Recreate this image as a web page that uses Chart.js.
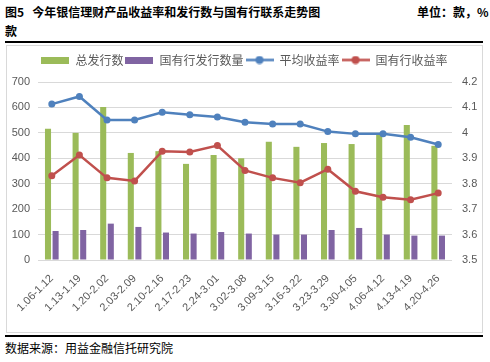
<!DOCTYPE html>
<html>
<head>
<meta charset="utf-8">
<script src="https://cdn.jsdelivr.net/npm/chart.js@4"></script>
<style>
  body { margin: 0; width: 490px; height: 362px; background: #fff; overflow: hidden; position: relative;
         font-family: "Noto Sans CJK SC", "Noto Sans", sans-serif; }
  .txt { position: absolute; font-size: 12px; line-height: 14px; color: #000; white-space: nowrap; }
  .bold { font-weight: bold; }
  .rule { position: absolute; left: 5px; width: 478px; height: 2px; background: #000; }
  #box { position: absolute; left: 6px; top: 45px; width: 477px; height: 288px; border: 1px solid #d9d9d9; box-sizing: border-box; }
  #wrap { position: absolute; left: 0; top: 0; width: 475px; height: 286px; }
</style>
</head>
<body>
<div class="txt bold" style="left:5px;top:5px;">图5&nbsp;&nbsp;&nbsp;今年银信理财产品收益率和发行数与国有行联系走势图</div>
<div class="txt bold" style="left:417px;top:5px;">单位：款，%</div>
<div class="txt bold" style="left:5px;top:24px;">款</div>
<div class="rule" style="top:41px;"></div>
<div id="box"><div id="wrap"><canvas id="chart"></canvas></div></div>
<div class="rule" style="top:335px;"></div>
<div class="txt" style="left:5px;top:341px;">数据来源：用益金融信托研究院</div>
<script>
const weeks = ['1.06-1.12', '1.13-1.19', '1.20-2.02', '2.03-2.09', '2.10-2.16', '2.17-2.23', '2.24-3.01', '3.02-3.08',
  '3.09-3.15', '3.16-3.22', '3.23-3.29', '3.30-4.05', '4.06-4.12', '4.13-4.19', '4.20-4.26'];
const totalIssued = [516, 500, 602, 421, 428, 378, 413, 400, 465, 445, 460, 456, 492, 531, 449];
const stateIssued = [114, 118, 143, 130, 108, 104, 110, 104, 100, 100, 118, 126, 100, 96, 96];
const avgYield = [4.113, 4.143, 4.051, 4.051, 4.081, 4.071, 4.062, 4.042, 4.035, 4.035, 4.005, 3.996, 3.996, 3.983, 3.954];
const stateYield = [3.831, 3.913, 3.823, 3.811, 3.928, 3.925, 3.950, 3.852, 3.823, 3.804, 3.857, 3.770, 3.747, 3.737, 3.763];

const seriesNames = ['总发行数', '国有行发行数量', '平均收益率', '国有行收益率'];
const colors = ['#9BBB59', '#8064A2', '#4F81BD', '#C0504D'];
const tickColor = '#595959';
const gridColor = '#d9d9d9';

// legend symbols: wide box for bars, line with dot for lines
function barIcon(color) {
  const c = document.createElement('canvas');
  c.width = 28; c.height = 7;
  const g = c.getContext('2d');
  g.fillStyle = color;
  g.fillRect(0, 0, 28, 7);
  return c;
}
function lineIcon(color) {
  const c = document.createElement('canvas');
  c.width = 28; c.height = 9;
  const g = c.getContext('2d');
  g.strokeStyle = color; g.lineWidth = 2.5;
  g.beginPath(); g.moveTo(0, 4.5); g.lineTo(28, 4.5); g.stroke();
  g.fillStyle = color;
  g.beginPath(); g.arc(14, 4.5, 4, 0, Math.PI * 2); g.fill();
  return c;
}
const icons = [barIcon(colors[0]), barIcon(colors[1]), lineIcon(colors[2]), lineIcon(colors[3])];

const legendHeight = {
  id: 'legendHeight',
  afterInit(chart) {
    const lg = chart.legend;
    const fit = lg.fit;
    lg.fit = function () { fit.call(this); this.height = 30; };
  },
};

function lineSet(i, data) {
  return {
    type: 'line', label: seriesNames[i], data, yAxisID: 'y1', order: 0,
    borderColor: colors[i], backgroundColor: colors[i], borderWidth: 2.5,
    pointRadius: 3.5, pointBackgroundColor: colors[i], pointBorderWidth: 0, tension: 0,
  };
}

new Chart(document.getElementById('chart'), {
  type: 'bar',
  data: {
    labels: weeks,
    datasets: [
      { label: seriesNames[0], data: totalIssued, backgroundColor: colors[0], yAxisID: 'y', order: 1,
        categoryPercentage: 0.55, barPercentage: 0.8 },
      { label: seriesNames[1], data: stateIssued, backgroundColor: colors[1], yAxisID: 'y', order: 1,
        categoryPercentage: 0.55, barPercentage: 0.8 },
      lineSet(2, avgYield),
      lineSet(3, stateYield),
    ],
  },
  plugins: [legendHeight],
  options: {
    responsive: true,
    maintainAspectRatio: false,
    animation: false,
    layout: { padding: { top: 6, left: 0, right: 0, bottom: 0 } },
    scales: {
      x: {
        grid: { display: false },
        border: { display: false },
        ticks: { color: tickColor, font: { family: 'Liberation Sans', size: 11 }, minRotation: 45, maxRotation: 45, padding: 4, autoSkip: false },
        afterFit: (s) => { s.height = 72; },
      },
      y: {
        position: 'left', min: 0, max: 700,
        ticks: { stepSize: 100, color: tickColor, font: { family: 'Liberation Sans', size: 11 }, padding: 8 },
        grid: { color: gridColor, drawTicks: false },
        border: { display: false },
        afterFit: (s) => { s.width = 31; },
      },
      y1: {
        position: 'right', min: 3.5, max: 4.2,
        ticks: { stepSize: 0.1, color: tickColor, font: { family: 'Liberation Sans', size: 11 }, padding: 10,
          callback: (v) => String(Number(v.toFixed(1))) },
        grid: { display: false, drawTicks: false },
        border: { display: false },
        afterFit: (s) => { s.width = 30; },
      },
    },
    plugins: {
      legend: {
        position: 'top',
        labels: {
          usePointStyle: true,
          pointStyleWidth: 28,
          padding: 2,
          color: tickColor,
          font: { family: 'Noto Sans CJK SC', size: 12 },
          sort: (a, b) => a.datasetIndex - b.datasetIndex,
          generateLabels(chart) {
            const items = Chart.defaults.plugins.legend.labels.generateLabels(chart);
            items.forEach((it) => { it.pointStyle = icons[it.datasetIndex]; });
            return items;
          },
        },
      },
      tooltip: { enabled: false },
    },
  },
});
</script>
</body>
</html>
